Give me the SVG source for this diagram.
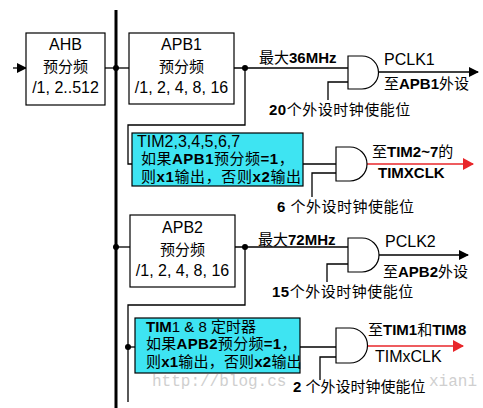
<svg xmlns="http://www.w3.org/2000/svg" width="483" height="408" viewBox="0 0 483 408">
<defs>
<style>
text{font-family:"Liberation Sans","Noto Sans CJK SC",sans-serif;font-size:15px;fill:#000}
.l{font-size:16px}
.c{text-anchor:middle}
.b{font-weight:bold}
.box{fill:#fff;stroke:#000;stroke-width:1.2}
.cy{fill:#3ee4f2;stroke:#000;stroke-width:1.2}
.gate{fill:#fff;stroke:#000;stroke-width:1.2}
.w{fill:none;stroke:#000;stroke-width:1.3}
.r{fill:none;stroke:#e8262a;stroke-width:1.5}
.bus{stroke:#000;stroke-width:3}
.wm{font-family:"Liberation Mono",monospace;font-size:16px;fill:#cfcfcf}
</style>
<marker id="ab" markerWidth="10" markerHeight="10" refX="9" refY="5" orient="auto" markerUnits="userSpaceOnUse"><path d="M0,0 L10,5 L0,10 Z" fill="#000"/></marker>
<marker id="ar" markerWidth="11" markerHeight="12" refX="10" refY="6" orient="auto" markerUnits="userSpaceOnUse"><path d="M0,0 L11,6 L0,12 Z" fill="#e8262a"/></marker>
</defs>
<rect width="483" height="408" fill="#fff"/>
<text class="wm" x="152" y="386">http://blog.cs</text>
<text class="wm" x="477" y="386" text-anchor="end">xiani</text>
<g id="connectors">
<line class="bus" x1="116" y1="10" x2="116" y2="408"/>
<path class="w" d="M13,68 H26" marker-end="url(#ab)"/>
<path class="w" d="M105,68 H129"/>
<path class="w" d="M234,68 H348"/>
<path class="w" d="M245,68 V125 H128 V164 H132"/>
<path class="w" d="M303,164 H336"/>
<path class="w" d="M116,247 H130"/>
<path class="w" d="M235,247 H348"/>
<path class="w" d="M245,247 V305 H128 V402"/>
<path class="w" d="M128,347 H135"/>
<path class="w" d="M300,347 H336"/>
<path class="w" d="M378,72 H478" marker-end="url(#ab)"/>
<path class="w" d="M379,255 H468" marker-end="url(#ab)"/>
<path class="r" d="M367,164 H473" marker-end="url(#ar)"/>
<path class="r" d="M367,346 H463" marker-end="url(#ar)"/>
<path class="w" d="M328,100 V82 H348"/>
<path class="w" d="M312,197 V173 H336"/>
<path class="w" d="M327,282 V264 H348"/>
<path class="w" d="M320,380 V357 H336"/>
<circle cx="116" cy="68" r="3"/>
<circle cx="245" cy="68" r="3"/>
<circle cx="116" cy="247" r="3"/>
<circle cx="245" cy="247" r="3"/>
<circle cx="128" cy="347" r="3"/>
</g>
<g id="ahb">
<rect class="box" x="26" y="33" width="79" height="72"/>
<text class="l c" x="65.5" y="50">AHB</text>
<text class="c" x="65.5" y="72">预分频</text>
<text class="l c" x="65.5" y="93">/1, 2..512</text>
</g>
<g id="apb1">
<rect class="box" x="129" y="33" width="105" height="71"/>
<text class="l c" x="181.5" y="50">APB1</text>
<text class="c" x="181.5" y="72">预分频</text>
<text class="l c" x="181.5" y="93">/1, 2, 4, 8, 16</text>
</g>
<g id="apb2">
<rect class="box" x="130" y="215" width="105" height="72"/>
<text class="l c" x="182.5" y="233">APB2</text>
<text class="c" x="182.5" y="255">预分频</text>
<text class="l c" x="182.5" y="276">/1, 2, 4, 8, 16</text>
</g>
<g id="tim27">
<rect class="cy" x="132" y="133" width="171" height="53"/>
<text class="l" x="137" y="147">TIM2,3,4,5,6,7</text>
<text x="141" y="164" letter-spacing="0.5">如果<tspan class="b">APB1</tspan>预分频<tspan class="b">=1</tspan>，</text>
<text x="141" y="182" letter-spacing="0.6">则<tspan class="b">x1</tspan>输出，否则<tspan class="b">x2</tspan>输出</text>
</g>
<g id="tim18">
<rect class="cy" x="135" y="318" width="165" height="55"/>
<text x="146" y="332"><tspan class="b">TIM</tspan>1 &amp; 8 定时器</text>
<text x="146" y="349" letter-spacing="0.3">如果<tspan class="b">APB2</tspan>预分频<tspan class="b">=1</tspan>，</text>
<text x="146" y="367" letter-spacing="0.2">则<tspan class="b">x1</tspan>输出，否则<tspan class="b">x2</tspan>输出</text>
</g>
<g id="gate1">
<path class="gate" d="M348,56 H362 A16.5,16.5 0 0 1 362,89 H348 Z"/>
</g>
<g id="gate2">
<path class="gate" d="M348,238 H362 A17,17 0 0 1 362,272 H348 Z"/>
</g>
<g id="gate3">
<path class="gate" d="M336,147 H350 A17,17 0 0 1 350,181 H336 Z"/>
</g>
<g id="gate4">
<path class="gate" d="M336,328 H350 A17.5,17.5 0 0 1 350,363 H336 Z"/>
</g>
<g id="labels">
<text x="259" y="63">最大<tspan class="b">36MHz</tspan></text>
<text class="l" x="384" y="65">PCLK1</text>
<text x="384" y="89">至<tspan class="b">APB1</tspan>外设</text>
<text x="269" y="115" letter-spacing="0.5"><tspan class="b">20</tspan>个外设时钟使能位</text>
<text x="372" y="157">至<tspan class="b">TIM2~7</tspan>的</text>
<text class="b" x="378" y="178">TIMXCLK</text>
<text x="277" y="212" letter-spacing="0.5"><tspan class="b">6</tspan> 个外设时钟使能位</text>
<text x="258" y="245">最大<tspan class="b">72MHz</tspan></text>
<text class="l" x="385" y="247">PCLK2</text>
<text x="383" y="277">至<tspan class="b">APB2</tspan>外设</text>
<text x="272" y="297" letter-spacing="0.5"><tspan class="b">15</tspan>个外设时钟使能位</text>
<text x="368" y="335">至<tspan class="b">TIM1</tspan>和<tspan class="b">TIM8</tspan></text>
<text class="l" x="375" y="362">TIMxCLK</text>
<text x="293" y="392"><tspan class="b">2</tspan> 个外设时钟使能位</text>
</g>
</svg>
